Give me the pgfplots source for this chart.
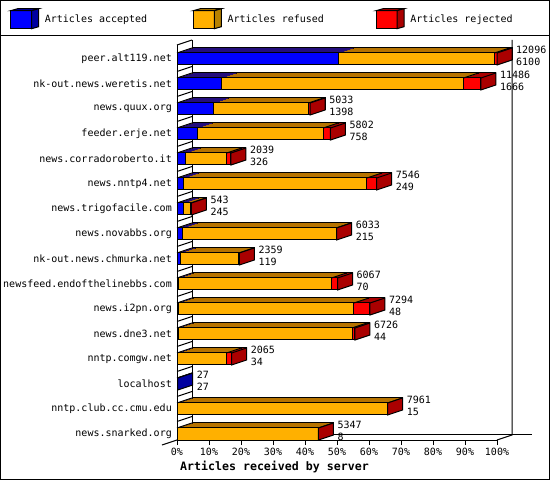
\documentclass[border=0pt]{standalone}
\usepackage{pgfplots}
\usepackage{pgfplotstable}
\pgfplotsset{compat=1.18}
\usepackage{fontspec}
\setmainfont{DejaVu Sans Mono}

\definecolor{cblue}{RGB}{0,0,255}
\definecolor{dblue}{RGB}{0,0,160}
\definecolor{corange}{RGB}{255,176,0}
\definecolor{dorange}{RGB}{184,130,0}
\definecolor{cred}{RGB}{255,0,0}
\definecolor{dred}{RGB}{170,0,0}

% slanted top edge of a bar segment, and the end cap of a bar
\pgfdeclareplotmark{slant}{%
  \pgfpathmoveto{\pgfqpoint{0bp}{6bp}}%
  \pgfpathlineto{\pgfqpoint{15bp}{11bp}}%
  \pgfusepathqstroke}
\pgfdeclareplotmark{cap}{%
  \pgfpathmoveto{\pgfqpoint{0bp}{-6bp}}%
  \pgfpathlineto{\pgfqpoint{0bp}{6bp}}%
  \pgfpathlineto{\pgfqpoint{15bp}{11bp}}%
  \pgfpathlineto{\pgfqpoint{15bp}{-1bp}}%
  \pgfpathclose
  \pgfusepathqfillstroke}

\pgfplotsset{
  fbar/.style={xbar, bar width=12bp, bar shift=0pt, line width=1bp, forget plot},
  cube/.style 2 args={legend image code/.code={
    \draw[line width=1bp, fill=#1] (0bp,-9bp) rectangle (21bp,9bp);
    \draw[line width=1bp, fill=#2] (0bp,9bp) -- (7bp,11bp) -- (28bp,11bp) -- (21bp,9bp) -- cycle;
    \draw[line width=1bp, fill=#2] (21bp,-9bp) -- (28bp,-7bp) -- (28bp,11bp) -- (21bp,9bp) -- cycle;
    \path (34bp,0bp);
  }},
}

% total offered, accepted, rejected (refused = total - accepted - rejected)
\pgfplotstableread{
pos name total acc rej
0 news.snarked.org 5347 8 10
1 nntp.club.cc.cmu.edu 7961 15 10
2 localhost 27 27 0
3 nntp.comgw.net 2065 34 200
4 news.dne3.net 6726 44 110
5 news.i2pn.org 7294 48 605
6 newsfeed.endofthelinebbs.com 6067 70 227
7 nk-out.news.chmurka.net 2359 119 30
8 news.novabbs.org 6033 215 20
9 news.trigofacile.com 543 245 20
10 news.nntp4.net 7546 249 365
11 news.corradoroberto.it 2039 326 160
12 feeder.erje.net 5802 758 272
13 news.quux.org 5033 1398 65
14 nk-out.news.weretis.net 11486 1666 655
15 peer.alt119.net 12096 6100 95
}\data

\begin{document}
\begin{tikzpicture}
\useasboundingbox (0,0) rectangle (550bp,480bp);
\fill[white] (0,0) rectangle (550bp,480bp);
\begin{axis}[
  at={(177bp,40bp)}, anchor=south west,
  scale only axis, width=320bp, height=395bp,
  xmin=0, xmax=12096, ymin=-0.24, ymax=15.56,
  clip=false,
  axis lines*=left,
  axis line style={line width=1bp, black},
  tick align=outside, major tick length=5bp,
  scaled x ticks=false,
  xtick={0,1209.6,2419.2,3628.8,4838.4,6048,7257.6,8467.2,9676.8,10886.4,12096},
  xticklabels={0\%,10\%,20\%,30\%,40\%,50\%,60\%,70\%,80\%,90\%,100\%},
  xtick style={line width=1bp, black},
  ytick={0,...,15},
  yticklabels from table={\data}{name},
  ytick style={draw=none},
  yticklabel style={inner sep=0pt},
  tick label style={font=\fontsize{10bp}{12bp}\selectfont},
  xlabel={Articles received by server},
  xlabel style={at={(axis description cs:0,0)}, anchor=west, xshift=3bp, yshift=-27bp,
    inner sep=0pt, font=\fontsize{11.6bp}{14bp}\selectfont\bfseries},
  legend columns=3,
  legend style={at={(axis description cs:0,1)}, anchor=north west, xshift=-167bp, yshift=37bp,
    draw=none, fill=none, inner sep=0pt, column sep=0pt,
    nodes={inner sep=0pt, font=\fontsize{10bp}{12bp}\selectfont}},
]
% back walls and floor
\draw[line width=1bp] ([shift={(15bp,5bp)}]axis cs:0,15.56) -- ([shift={(15bp,5bp)}]axis cs:0,-0.24)
  -- ([shift={(35bp,5bp)}]axis cs:12096,-0.24);
\draw[line width=1bp] ([shift={(15bp,5bp)}]axis cs:12096,15.56) -- ([shift={(15bp,5bp)}]axis cs:12096,-0.24)
  -- (axis cs:12096,-0.24);
\draw[line width=1bp] ([shift={(-15bp,-5bp)}]axis cs:0,-0.24) -- ([shift={(15bp,5bp)}]axis cs:0,-0.24);
\pgfplotsinvokeforeach{0.5,1.5,...,14.5,15.56}{
  \draw[line width=1bp] (axis cs:0,#1) -- ++(15bp,5bp);
}

% depth of the bars: shifted dark copies, back to front, whole-pixel steps
\addplot[fbar, fill=dred, draw=black, xshift=15bp, yshift=5bp] table[x=total, y=pos]{\data};
\addplot[fbar, fill=dorange, draw=black, xshift=15bp, yshift=5bp] table[x expr=\thisrow{total}-\thisrow{rej}, y=pos]{\data};
\addplot[fbar, fill=dblue, draw=black, xshift=15bp, yshift=5bp] table[x=acc, y=pos]{\data};
\pgfplotsinvokeforeach{4,3,2,1}{
  \addplot[fbar, fill=dred, draw=none, xshift=3*#1bp, yshift=#1bp] table[x=total, y=pos]{\data};
  \addplot[fbar, fill=dorange, draw=none, xshift=3*#1bp, yshift=#1bp] table[x expr=\thisrow{total}-\thisrow{rej}, y=pos]{\data};
  \addplot[fbar, fill=dblue, draw=none, xshift=3*#1bp, yshift=#1bp] table[x=acc, y=pos]{\data};
}

% front faces
\addplot[fbar, fill=cred, draw=black] table[x=total, y=pos]{\data};
\addplot[fbar, fill=corange, draw=black] table[x expr=\thisrow{total}-\thisrow{rej}, y=pos]{\data};
\addplot[fbar, fill=cblue, draw=black] table[x=acc, y=pos]{\data};

% slanted edges on the top faces
\addplot[forget plot, only marks, mark=slant, mark options={line width=1bp, black}] table[x expr=0, y=pos]{\data};
\addplot[forget plot, only marks, mark=slant, mark options={line width=1bp, black}] table[x expr=\thisrow{total}-\thisrow{rej}, y=pos]{\data};

% end caps
\addplot[forget plot, only marks, mark=cap, mark options={fill=dred, draw=black, line width=1bp}]
  table[x expr={\thisrow{rej}>0 ? \thisrow{total} : nan}, y=pos]{\data};
\addplot[forget plot, only marks, mark=cap, mark options={fill=dblue, draw=black, line width=1bp}]
  table[x expr={\thisrow{rej}>0 ? nan : \thisrow{total}}, y=pos]{\data};

% value labels: offered / accepted
\addplot[forget plot, only marks, mark=*, mark size=0pt, mark options={draw=none, fill=none},
  point meta=explicit symbolic,
  visualization depends on={\thisrow{acc} \as \acc},
  nodes near coords={\pgfplotspointmeta\\\pgfmathprintnumber[fixed, precision=0, 1000 sep={}, assume math mode=true]{\acc}},
  every node near coord/.append style={anchor=west, align=left, inner sep=0pt,
    xshift=19bp, yshift=3bp, font=\fontsize{10bp}{12.5bp}\selectfont}]
  table[x=total, y=pos, meta=total]{\data};

\addlegendimage{cube={cblue}{dblue}}
\addlegendentry{\makebox[148bp][l]{Articles accepted}}
\addlegendimage{cube={corange}{dorange}}
\addlegendentry{\makebox[148bp][l]{Articles refused}}
\addlegendimage{cube={cred}{dred}}
\addlegendentry{\makebox[148bp][l]{Articles rejected}}
\end{axis}
\draw[line width=1bp] (0bp,444.5bp) -- (550bp,444.5bp);
\draw[line width=1bp] (0.5bp,0.5bp) rectangle (549.5bp,479.5bp);
\end{tikzpicture}
\end{document}
